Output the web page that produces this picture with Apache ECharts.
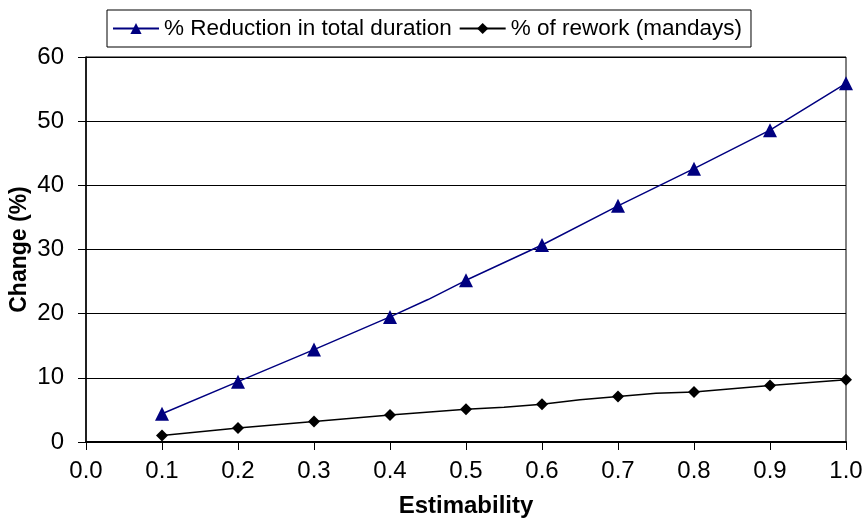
<!DOCTYPE html>
<html>
<head>
<meta charset="utf-8">
<script src="https://cdn.jsdelivr.net/npm/echarts@6/dist/echarts.min.js"></script>
<style>
html,body{margin:0;padding:0;background:#fff;}
#chart{width:865px;height:520px;}
</style>
</head>
<body>
<div id="chart"></div>
<script>
// Data
var estimability = [0.1, 0.2, 0.3, 0.4, 0.5, 0.6, 0.7, 0.8, 0.9, 1.0];
var reductionDuration = [4.4, 9.4, 14.4, 19.5, 25.2, 30.7, 36.8, 42.6, 48.6, 55.9];
var reworkMandays = [1.0, 2.2, 3.2, 4.2, 5.1, 5.9, 7.1, 7.8, 8.8, 9.7];
// unmarked intermediate points (bends visible in the lines)
var reductionMidX = [0.45];
var reductionMid = [22.2];
var reworkMidX = [0.55, 0.65, 0.75];
var reworkMid = [5.4, 6.6, 7.6];
var seriesNames = ['% Reduction in total duration', '% of rework (mandays)'];

function buildData(xs, ys, mx, my) {
  var pts = [];
  for (var i = 0; i < xs.length; i++) pts.push({value: [xs[i], ys[i]]});
  for (var j = 0; j < mx.length; j++) pts.push({value: [mx[j], my[j]], symbol: 'none'});
  pts.sort(function (a, b) { return a.value[0] - b.value[0]; });
  return pts;
}

var FONT = '"Liberation Sans", Arial, sans-serif';
var chart = echarts.init(document.getElementById('chart'), null, {renderer: 'canvas'});
chart.setOption({
  animation: false,
  backgroundColor: '#fff',
  textStyle: {fontFamily: FONT, color: '#000'},
  legend: {
    left: 107, top: 10,
    padding: [7, 9, 7, 5],
    itemWidth: 46, itemHeight: 14, itemGap: 7,
    borderColor: '#000', borderWidth: 1,
    textStyle: {fontSize: 22.5, color: '#000', fontFamily: FONT},
    data: seriesNames
  },
  grid: {left: 86, right: 19, top: 57, bottom: 78, outerBoundsMode: 'none', containLabel: false,
    show: true, borderColor: '#000', borderWidth: 1, backgroundColor: 'transparent'},
  xAxis: {
    type: 'value', min: 0, max: 1, interval: 0.1,
    name: 'Estimability', nameLocation: 'middle', nameGap: 52,
    nameTextStyle: {fontSize: 24, fontWeight: 'bold', color: '#000', fontFamily: FONT},
    axisLine: {lineStyle: {color: '#000', width: 2}},
    axisTick: {show: true, length: 8, lineStyle: {color: '#000'}},
    axisLabel: {fontSize: 24, color: '#000', margin: 17, formatter: function (v) { return v.toFixed(1); }},
    splitLine: {show: false}
  },
  yAxis: {
    type: 'value', min: 0, max: 60, interval: 10,
    name: 'Change (%)', nameLocation: 'middle', nameGap: 55, nameMoveOverlap: false,
    nameTextStyle: {fontSize: 23, fontWeight: 'bold', color: '#000', fontFamily: FONT},
    axisLine: {show: true, lineStyle: {color: '#000', width: 1.5}},
    axisTick: {show: true, length: 8, lineStyle: {color: '#000'}},
    axisLabel: {fontSize: 24, color: '#000', margin: 22},
    splitLine: {show: true, lineStyle: {color: '#000', width: 1}}
  },
  series: [
    {
      name: seriesNames[0], type: 'line',
      data: buildData(estimability, reductionDuration, reductionMidX, reductionMid),
      symbol: 'triangle', symbolSize: 14,
      lineStyle: {color: '#000080', width: 1.5},
      itemStyle: {color: '#000080'}
    },
    {
      name: seriesNames[1], type: 'line',
      data: buildData(estimability, reworkMandays, reworkMidX, reworkMid),
      symbol: 'diamond', symbolSize: 12,
      lineStyle: {color: '#000', width: 1.5},
      itemStyle: {color: '#000'}
    }
  ]
});
</script>
</body>
</html>
